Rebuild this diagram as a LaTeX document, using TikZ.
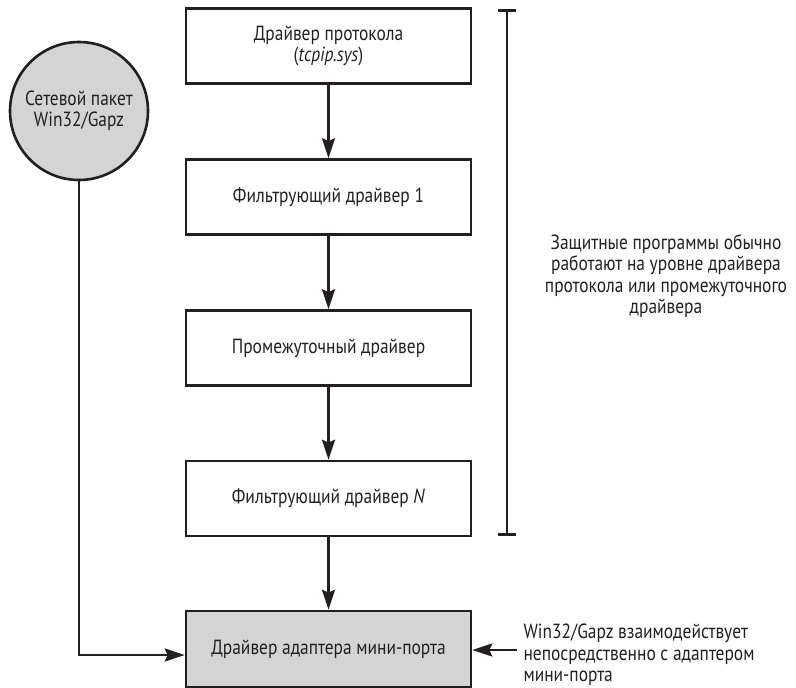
\documentclass[tikz,border=0pt]{standalone}
\usepackage{fontspec}
\setmainfont[FakeStretch=0.85]{PT Sans}
\usetikzlibrary{arrows.meta}
\definecolor{ink}{HTML}{231F20}
\definecolor{fillgray}{HTML}{D4D4D5}
\begin{document}
\begin{tikzpicture}[x=1pt,y=-1pt,
  every node/.style={font=\fontsize{20.5}{21.5}\selectfont, text=ink},
  box/.style={draw=ink, line width=2.6pt, minimum width=285pt, minimum height=75pt, inner sep=0pt, align=center},
  conn/.style={draw=ink, line width=2.6pt, -{Stealth[length=20pt,width=13pt,inset=3pt]}},
  brk/.style={draw=ink, line width=2.4pt}
]
\useasboundingbox (0,0) rectangle (796,688);
\node[box] (b1) at (328.5,46) {Драйвер протокола\\(\textit{tcpip.sys})};
\node[box] (b2) at (328.5,197) {Фильтрующий драйвер 1};
\node[box] (b3) at (328.5,348) {Промежуточный драйвер};
\node[box] (b4) at (328.5,498.5) {Фильтрующий драйвер \textit{N}};
\node[box, fill=fillgray, minimum height=76pt] (b5) at (328.5,649) {Драйвер адаптера мини-порта};
\node[draw=ink, line width=2.6pt, fill=fillgray, circle, minimum size=138pt, inner sep=0pt, align=center] (pk) at (79,111) {Сетевой пакет\\Win32/Gapz};

\draw[conn] (b1.south) -- (b2.north);
\draw[conn] (b2.south) -- (b3.north);
\draw[conn] (b3.south) -- (b4.north);
\draw[conn] (b4.south) -- (b5.north);

\coordinate (lc) at (79,655);
\draw[conn] (pk.south) -- (lc) -- (lc -| b5.west);

\coordinate (rc) at (517,650);
\draw[conn] (rc) -- (rc -| b5.east);

\coordinate (bt) at (507,10);
\coordinate (bb) at (507,534);
\draw[brk] (bt) -- (bb);
\draw[draw=ink, line width=3pt] ([xshift=-9pt]bt) -- ([xshift=9pt]bt);
\draw[draw=ink, line width=3pt] ([xshift=-9pt]bb) -- ([xshift=9pt]bb);

\node[align=center] (sec) at (666,276) {Защитные программы обычно\\работают на уровне драйвера\\протокола или промежуточного\\драйвера};
\node[align=left, anchor=west] (gz) at (520,655) {Win32/Gapz взаимодействует\\непосредственно с адаптером\\мини-порта};
\end{tikzpicture}
\end{document}
